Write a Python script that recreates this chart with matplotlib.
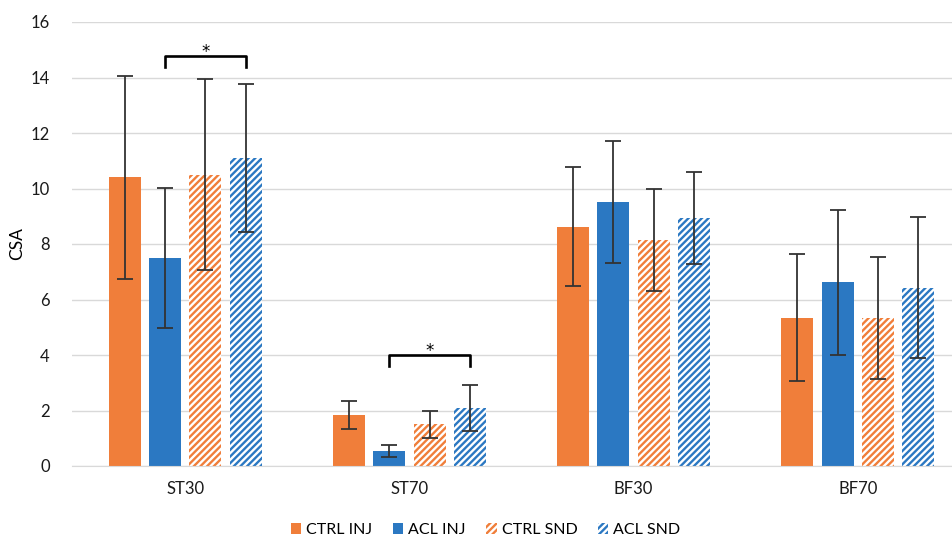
from matplotlib import pyplot as plt
import numpy as np

plt.rcParams['font.family'] = ['Lato', 'DejaVu Sans']
plt.rcParams['hatch.linewidth'] = 1.7

# data
muscles = ['ST30', 'ST70', 'BF30', 'BF70']
series = ['CTRL INJ', 'ACL INJ', 'CTRL SND', 'ACL SND']
ctrl_inj = [10.4, 1.85, 8.62, 5.35]
acl_inj = [7.5, 0.55, 9.5, 6.62]
ctrl_snd = [10.5, 1.5, 8.15, 5.32]
acl_snd = [11.1, 2.08, 8.93, 6.43]
ctrl_inj_err = [3.66, 0.5, 2.15, 2.3]
acl_inj_err = [2.52, 0.22, 2.2, 2.62]
ctrl_snd_err = [3.45, 0.5, 1.85, 2.2]
acl_snd_err = [2.65, 0.83, 1.65, 2.55]

orange = '#F07E3A'
blue = '#2B78C2'

fig = plt.figure(figsize=(9.52, 5.4), dpi=100)
ax = fig.add_axes([72/952, 1-466/540, 880/952, 444/540])

x = np.arange(len(muscles))
w = 0.143
step = 0.18
vals = [ctrl_inj, acl_inj, ctrl_snd, acl_snd]
errs = [ctrl_inj_err, acl_inj_err, ctrl_snd_err, acl_snd_err]
colors = [orange, blue, orange, blue]
hatched = [False, False, True, True]

for i in range(4):
    pos = x + (i - 1.5) * step
    if hatched[i]:
        ax.bar(pos, vals[i], w, color='white', edgecolor=colors[i], hatch='/////',
               linewidth=0, label=series[i], zorder=2)
    else:
        ax.bar(pos, vals[i], w, color=colors[i], linewidth=0, label=series[i], zorder=2)
    ax.errorbar(pos, vals[i], yerr=errs[i], fmt='none', ecolor='#333333',
                elinewidth=1.3, capsize=6, capthick=1.3, zorder=3)

# significance brackets
def bracket(x0, x1, y, h, ax):
    ax.plot([x0, x0, x1, x1], [y - h, y, y, y - h], color='black', lw=1.9, zorder=4)
    ax.text((x0 + x1) / 2, y - 0.02, '*', ha='center', va='baseline', fontsize=12,
            family='DejaVu Sans')

bracket(x[0] - 0.5 * step, x[0] + 1.5 * step, 14.77, 0.4, ax)
bracket(x[1] - 0.5 * step, x[1] + 1.5 * step, 4.0, 0.4, ax)

ax.set_ylim(0, 16)
ax.set_xlim(-0.505, 3.42)
ax.set_yticks(range(0, 17, 2))
ax.set_xticks(x)
ax.set_xticklabels(muscles)
ax.yaxis.grid(True, color='#D9D9D9', lw=1, zorder=0)
ax.set_axisbelow(True)
for s in ['top', 'right', 'left']:
    ax.spines[s].set_visible(False)
ax.spines['bottom'].set_color('#D9D9D9')
ax.tick_params(axis='both', length=0, labelsize=12, colors='#1a1a1a')
ax.tick_params(axis='x', pad=11)
ax.tick_params(axis='y', pad=16)
ax.set_ylabel('CSA', fontsize=12.5, labelpad=4)

ax.legend(loc='center', bbox_to_anchor=(0.47, -0.145), ncol=4, frameon=False,
          fontsize=11.5, handlelength=0.65, handleheight=0.65, handletextpad=0.3,
          columnspacing=1.3)

fig.savefig('out.png', dpi=100)
